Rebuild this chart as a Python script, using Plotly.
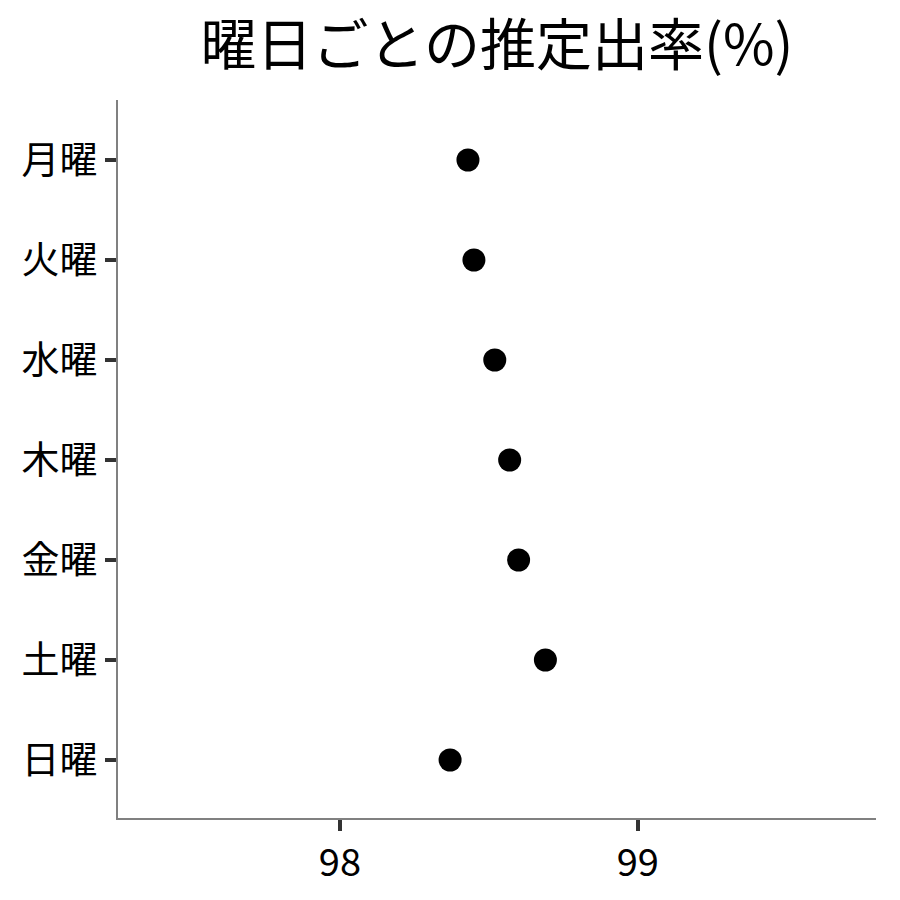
import plotly.graph_objects as go

# estimated rate per weekday (%)
days = ["月曜", "火曜", "水曜", "木曜", "金曜", "土曜", "日曜"]
rates = [98.43, 98.45, 98.52, 98.57, 98.60, 98.69, 98.37]
x_ticks = [98, 99]

FONT = "Noto Sans CJK JP"

fig = go.Figure()
fig.add_trace(go.Scatter(
    x=rates,
    y=days,
    mode="markers",
    marker=dict(color="black", size=23),
    showlegend=False,
))

fig.update_layout(
    width=900,
    height=900,
    paper_bgcolor="white",
    plot_bgcolor="white",
    margin=dict(l=110, r=32, t=92, b=90),
    font=dict(family=FONT, color="black"),
    title=dict(
        text="曜日ごとの推定出率(%)",
        xref="paper",
        x=0.5,
        xanchor="center",
        y=0.958,
        yanchor="middle",
        font=dict(size=56, family=FONT, color="black"),
    ),
)

axis_style = dict(
    showgrid=False,
    zeroline=False,
    showline=True,
    linecolor="#808080",
    linewidth=1.7,
    ticks="outside",
    ticklen=11,
    tickwidth=4,
    tickcolor="#333333",
    tickfont=dict(size=38, family=FONT, color="black"),
)

fig.update_xaxes(
    range=[97.255, 99.8],
    tickvals=x_ticks,
    ticktext=[str(v) for v in x_ticks],
    **axis_style,
)

fig.update_yaxes(
    categoryorder="array",
    categoryarray=days,
    range=[6.58, -0.6],
    **axis_style,
)

fig.write_html("out.html")
